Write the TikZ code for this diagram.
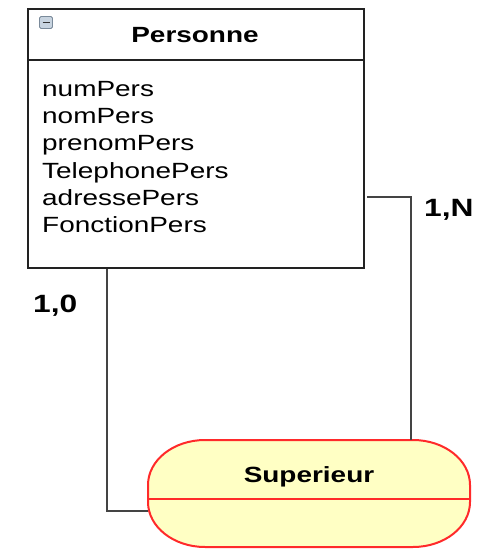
\documentclass[tikz,border=0pt]{standalone}
\usepackage{fontspec}
\setmainfont{Liberation Sans}
\usepackage{graphicx}
\definecolor{boxline}{HTML}{222222}
\definecolor{connline}{HTML}{444444}
\definecolor{supfill}{HTML}{FFFFC4}
\definecolor{supline}{HTML}{FF2A2A}
\definecolor{iconfill}{HTML}{C8D4E0}
\definecolor{iconline}{HTML}{7A8A9A}
\newcommand{\sx}[1]{\scalebox{1.27}[1]{#1}}
\tikzset{
  txt/.style={anchor=base west, inner sep=0pt, font=\fontsize{22}{22}\selectfont},
  ttl/.style={anchor=base, inner sep=0pt, font=\fontsize{22}{22}\selectfont\bfseries},
  card/.style={anchor=base west, inner sep=0pt, font=\fontsize{25}{25}\selectfont\bfseries},
  conn/.style={draw=connline, line width=2pt},
}
\begin{document}
\begin{tikzpicture}[x=1pt,y=-1pt]
\useasboundingbox (0,0) rectangle (477,549);
% Personne entity
\node (pers) [draw=boxline, line width=2pt, rectangle, anchor=north west,
  minimum width=336pt, minimum height=259pt, inner sep=0pt] at (27,8) {};
\draw[boxline, line width=2pt] (pers.west |- 0,60) -- (pers.east |- 0,60);
% collapse icon
\draw[iconline, fill=iconfill, rounded corners=1.5pt, line width=0.8pt] (39.5,16.5) rectangle (52.5,28.5);
\draw[black!80, line width=1.8pt] (42.5,22.5) -- (49.5,22.5);
\node (ptitle) [ttl] at (195,42) {\sx{Personne}};
\node (a1) [txt] at (42,96) {\sx{numPers}};
\node (a2) [txt] at (42,123.3) {\sx{nomPers}};
\node (a3) [txt] at (42,150.7) {\sx{prenomPers}};
\node (a4) [txt] at (42,178) {\sx{TelephonePers}};
\node (a5) [txt] at (42,205.3) {\sx{adressePers}};
\node (a6) [txt] at (42,232.7) {\sx{FonctionPers}};
% Superieur association
\node (sup) [rectangle, anchor=north west, minimum width=322pt, minimum height=107pt, inner sep=0pt] at (148,440) {};
\filldraw[fill=supfill, draw=supline, line width=2pt]
  (205,440) -- (413,440) arc[start angle=-90, end angle=0, x radius=57, y radius=45]
  -- (470,502) arc[start angle=0, end angle=90, x radius=57, y radius=45]
  -- (205,547) arc[start angle=90, end angle=180, x radius=57, y radius=45]
  -- (148,485) arc[start angle=180, end angle=270, x radius=57, y radius=45] -- cycle;
\draw[supline, line width=2pt] (sup.west |- 0,499) -- (sup.east |- 0,499);
\node (stitle) [ttl] at (309,482) {\sx{Superieur}};
% connectors
\coordinate (lx) at (107,0);
\coordinate (lb) at (148,511);
\coordinate (rs) at (367,197);
\coordinate (rt) at (411,440);
\draw[conn] (pers.south -| lx) |- (lb);
\draw[conn] (rs) -| (rt);
% cardinalities
\node (c1) [card] at (424,216) {\sx{1,N}};
\node (c2) [card] at (33,312) {\sx{1,0}};
\end{tikzpicture}
\end{document}
